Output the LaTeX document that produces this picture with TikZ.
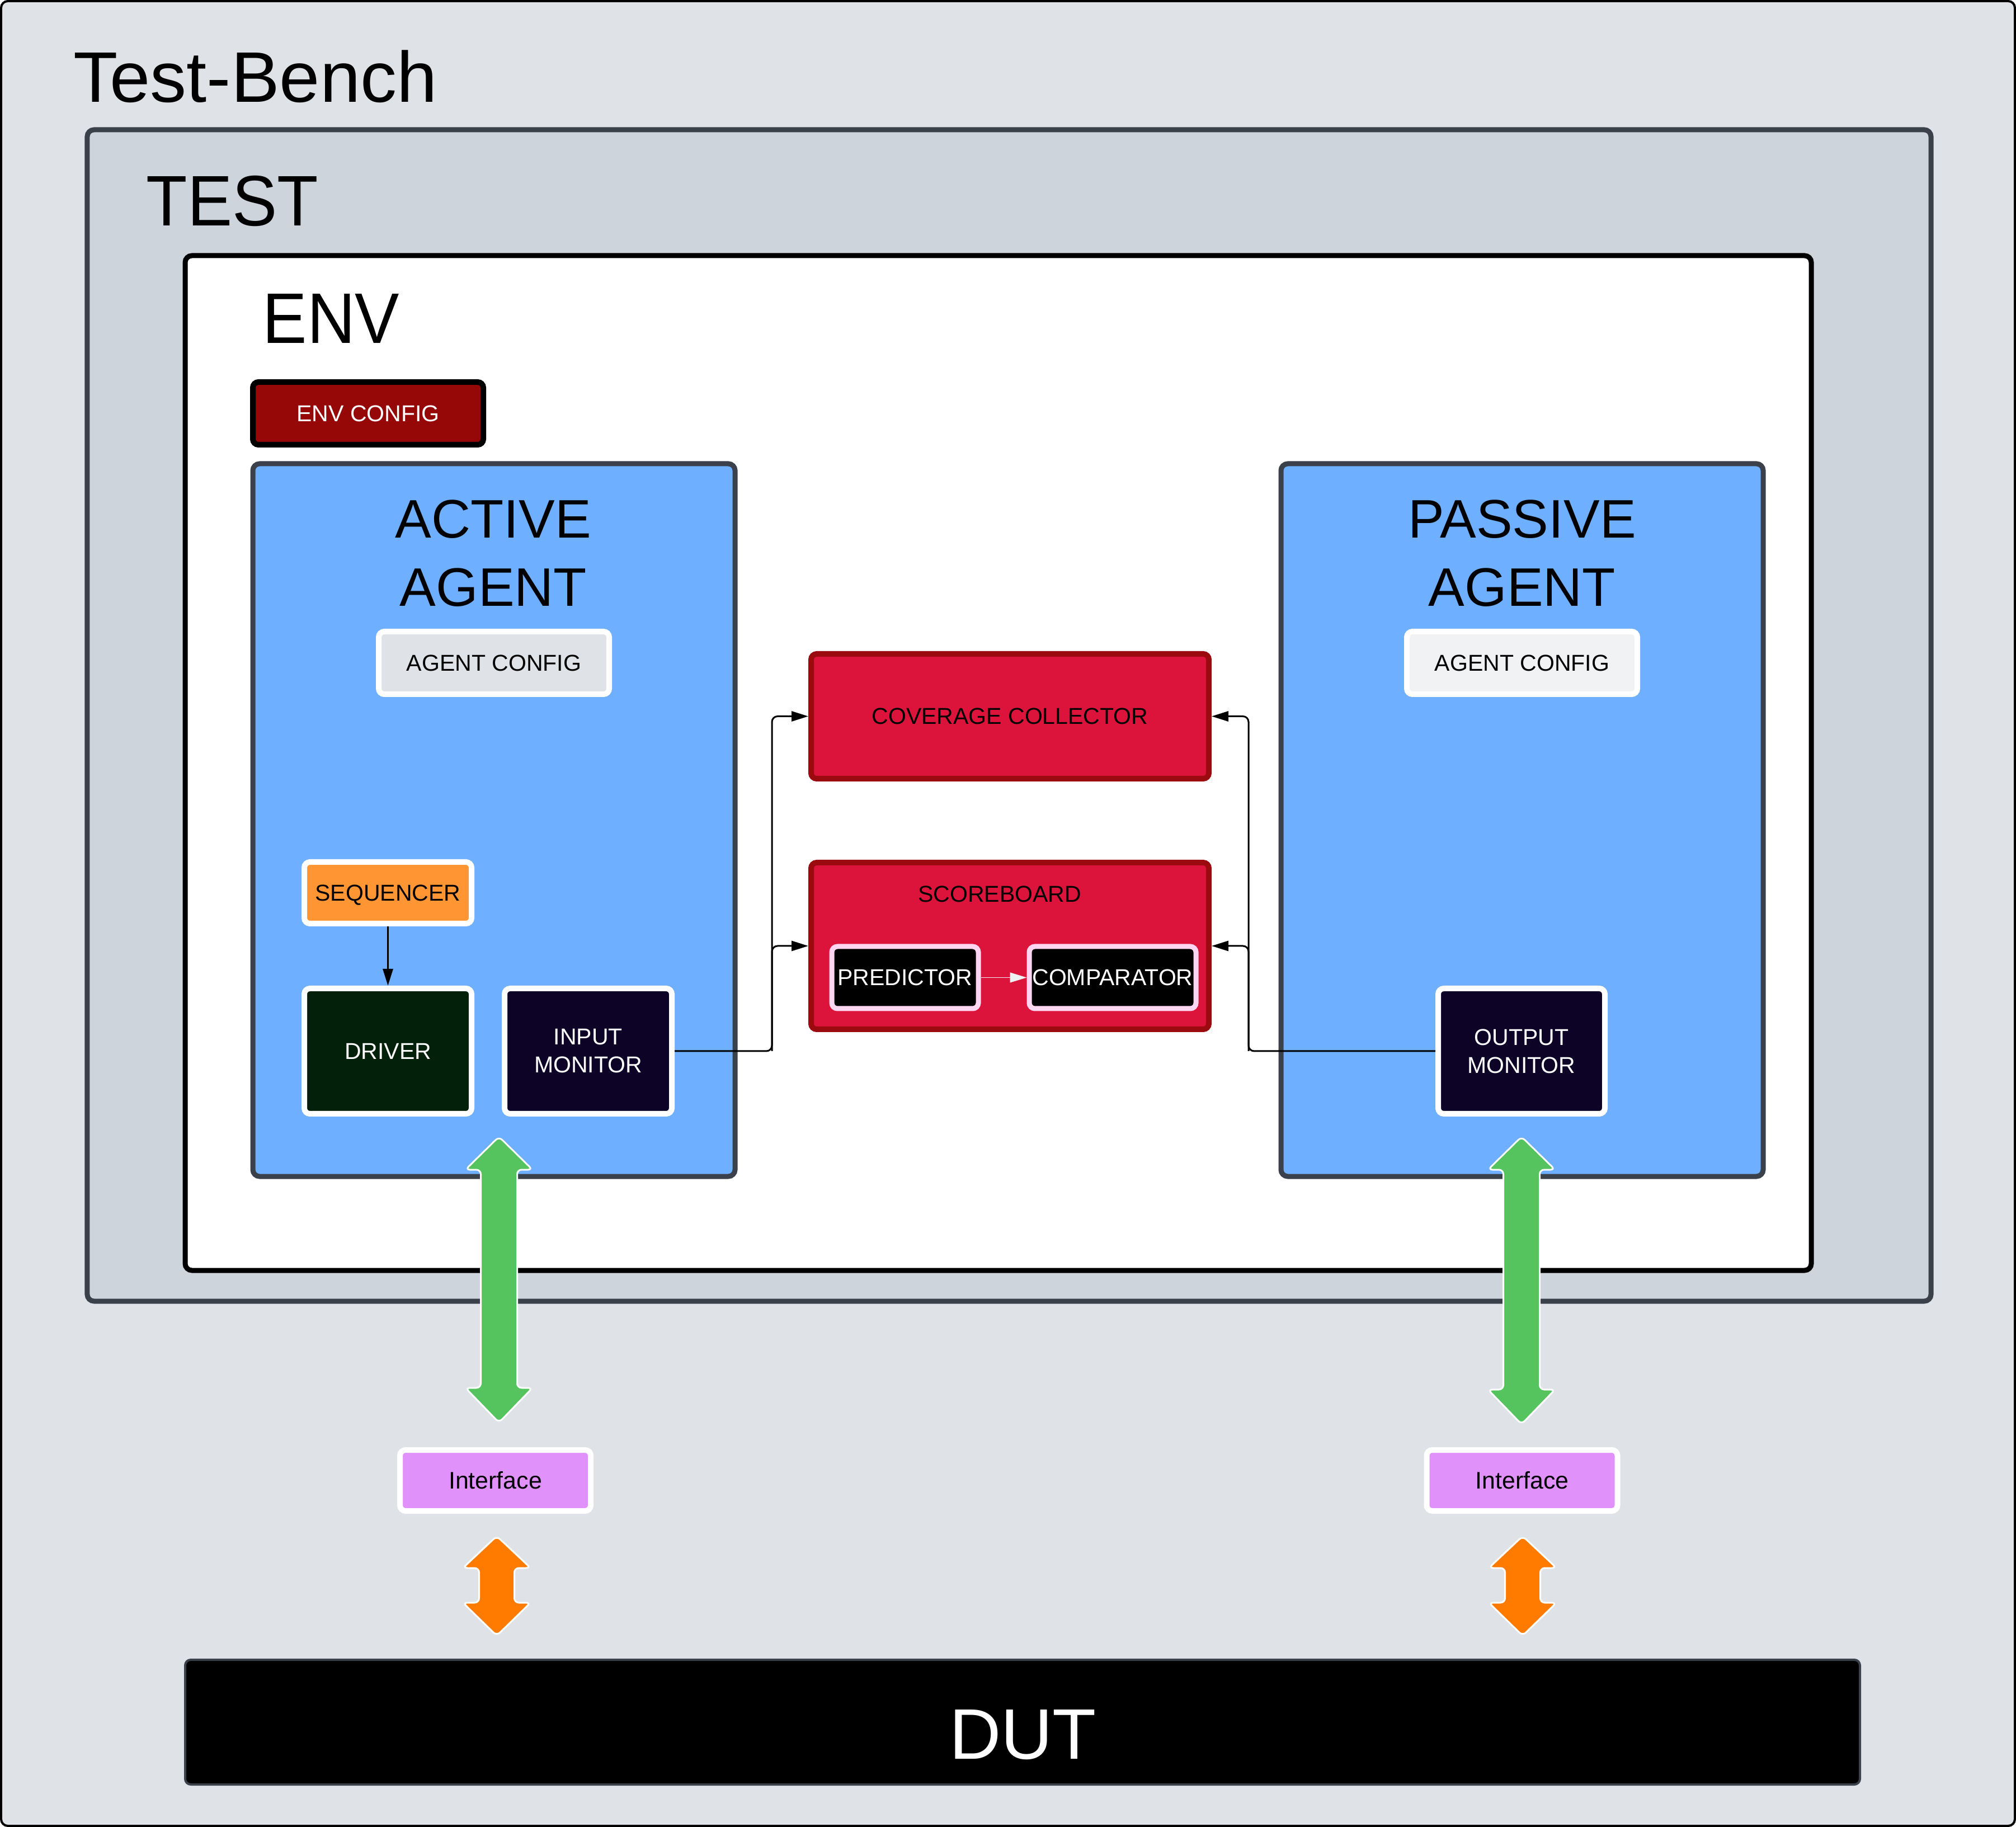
\documentclass[tikz,border=0pt]{standalone}
\usepackage{fontspec}
\setmainfont{Liberation Sans}
\usetikzlibrary{arrows.meta}

\definecolor{tbfill}{HTML}{DFE2E7}
\definecolor{testfill}{HTML}{CDD4DC}
\definecolor{darkedge}{HTML}{3A414B}
\definecolor{agentblue}{HTML}{6EB0FF}
\definecolor{cfggray}{HTML}{DFE2E7}
\definecolor{cfglight}{HTML}{F1F2F4}
\definecolor{envred}{HTML}{960808}
\definecolor{seqorange}{HTML}{FF9633}
\definecolor{drvgreen}{HTML}{03200A}
\definecolor{monpurple}{HTML}{0C0326}
\definecolor{crimsonfill}{HTML}{DC143C}
\definecolor{crimsonedge}{HTML}{9B0A0F}
\definecolor{pinkedge}{HTML}{FFD6F2}
\definecolor{biggreen}{HTML}{55C45F}
\definecolor{bigorange}{HTML}{FF7B00}
\definecolor{ifviolet}{HTML}{E091FA}
\definecolor{arrowlight}{HTML}{EEF0F2}

\newcommand{\bigtitle}{\fontsize{36.4pt}{40pt}\selectfont}
\newcommand{\agenttitle}{\fontsize{27.6pt}{34.4pt}\selectfont}
\newcommand{\lblfont}{\fontsize{11.67pt}{14.2pt}\selectfont}
\newcommand{\iffont}{\fontsize{12.2pt}{14pt}\selectfont}

% #1 colour, #2 cx, #3 top tip, #4 top head base, #5 bottom head base, #6 bottom tip, #7 shaft half width, #8 head half width
\newcommand{\dblarrow}[8]{%
  \draw[fill=#1, draw=white, line width=0.03cm, rounded corners=0.08cm]
   (#2,#3) -- (#2+#8,#4) -- (#2+#7,#4) -- (#2+#7,#5) -- (#2+#8,#5) -- (#2,#6)
   -- (#2-#8,#5) -- (#2-#7,#5) -- (#2-#7,#4) -- (#2-#8,#4) -- cycle;}

\tikzset{
  box/.style={draw, rounded corners=0.1cm, inner sep=0pt, align=center, font=\lblfont},
  container/.style={draw, inner sep=0pt, line width=0.09cm, rounded corners=0.12cm},
  titletext/.style={inner sep=0pt, font=\bigtitle, anchor=base west},
  agenttext/.style={inner sep=0pt, font=\agenttitle, anchor=base},
  conn/.style={line width=0.03cm, rounded corners=0.1cm, -{Triangle[length=0.3cm,width=0.18cm]}},
}

\begin{document}
\begin{tikzpicture}
\useasboundingbox (0,0) rectangle (36.04,-32.66);

% Test-bench background
\node[draw=black, fill=tbfill, line width=0.04cm, rounded corners=0.12cm, inner sep=0pt,
      minimum width=36.0cm, minimum height=32.62cm] (tb) at (18.02,-16.33) {};
\node[titletext] (tbtitle) at (1.31,-1.83) {\scalebox{1.015}[1]{Test-Bench}};

% TEST
\node[container, draw=darkedge, fill=testfill, minimum width=32.96cm, minimum height=20.94cm] (test) at (18.04,-12.79) {};
\node[titletext] (testtitle) at (2.61,-4.04) {\scalebox{0.94}[1]{TEST}};

% ENV
\node[container, draw=black, fill=white, minimum width=29.07cm, minimum height=18.14cm] (env) at (17.845,-13.64) {};
\node[titletext] (envtitle) at (4.69,-6.14) {\scalebox{0.93}[1]{ENV}};

\node[box, draw=black, line width=0.1cm, fill=envred, text=white, minimum width=4.12cm, minimum height=1.12cm] (envcfg) at (6.58,-7.39) {ENV CONFIG};

% Active agent
\node[container, draw=darkedge, fill=agentblue, minimum width=8.62cm, minimum height=12.74cm] (active) at (8.83,-14.66) {};
\node[agenttext] (acttitleA) at (8.82,-9.62) {ACTIVE};
\node[agenttext] (acttitleB) at (8.82,-10.84) {AGENT};
\node[box, draw=white, line width=0.1cm, fill=cfggray, minimum width=4.12cm, minimum height=1.12cm] (actcfg) at (8.83,-11.85) {AGENT CONFIG};
\node[box, draw=white, line width=0.1cm, fill=seqorange, text depth=0pt, minimum width=2.99cm, minimum height=1.10cm] (seq) at (6.935,-15.96) {SEQUENCER};
\node[box, draw=white, line width=0.1cm, fill=drvgreen, text=white, minimum width=2.99cm, minimum height=2.24cm] (drv) at (6.935,-18.79) {DRIVER};
\node[box, draw=white, line width=0.1cm, fill=monpurple, text=white, minimum width=2.99cm, minimum height=2.24cm] (inmon) at (10.515,-18.79) {INPUT\\MONITOR};

% Passive agent
\node[container, draw=darkedge, fill=agentblue, minimum width=8.62cm, minimum height=12.74cm] (passive) at (27.21,-14.66) {};
\node[agenttext] (pastitleA) at (27.21,-9.62) {PASSIVE};
\node[agenttext] (pastitleB) at (27.21,-10.84) {AGENT};
\node[box, draw=white, line width=0.1cm, fill=cfglight, minimum width=4.12cm, minimum height=1.12cm] (pascfg) at (27.21,-11.85) {AGENT CONFIG};
\node[box, draw=white, line width=0.1cm, fill=monpurple, text=white, minimum width=2.98cm, minimum height=2.24cm] (outmon) at (27.20,-18.79) {OUTPUT\\MONITOR};

% Coverage and scoreboard
\node[box, draw=crimsonedge, line width=0.1cm, fill=crimsonfill, minimum width=7.11cm, minimum height=2.23cm] (cov) at (18.055,-12.805) {COVERAGE COLLECTOR};
\node[box, draw=crimsonedge, line width=0.1cm, fill=crimsonfill, minimum width=7.11cm, minimum height=2.98cm] (sb) at (18.055,-16.91) {};
\node[inner sep=0pt, font=\lblfont, anchor=base] (sbtitle) at (17.87,-16.13) {SCOREBOARD};
\node[box, draw=pinkedge, line width=0.09cm, fill=black, text=white, minimum width=2.62cm, minimum height=1.11cm] (pred) at (16.18,-17.475) {PREDICTOR};
\node[box, draw=pinkedge, line width=0.09cm, fill=black, text=white, minimum width=2.98cm, minimum height=1.11cm] (comp) at (19.89,-17.475) {COMPARATOR};

% connectors
\draw[conn] (seq) -- (drv);
\draw[line width=0.015cm, draw=arrowlight, -{Triangle[length=0.3cm,width=0.18cm]}, arrowlight] (pred) -- (comp);

\coordinate (lbus) at (13.80,-18.79);
\draw[conn] (inmon.east) -- (lbus) |- (cov.west);
\draw[conn] (lbus) |- (sb.west);

\coordinate (rbus) at (22.32,-18.79);
\draw[conn] (outmon.west) -- (rbus) |- (cov.east);
\draw[conn] (rbus) |- (sb.east);

% Interfaces
\node[box, draw=white, line width=0.1cm, fill=ifviolet, font=\iffont, minimum width=3.41cm, minimum height=1.09cm] (ifa) at (8.855,-26.465) {Interface};
\node[box, draw=white, line width=0.1cm, fill=ifviolet, font=\iffont, minimum width=3.41cm, minimum height=1.09cm] (ifp) at (27.21,-26.465) {Interface};

% DUT
\node[draw=darkedge, fill=black, line width=0.04cm, rounded corners=0.1cm, inner sep=0pt,
      minimum width=29.94cm, minimum height=2.23cm] (dut) at (18.28,-30.785) {};
\node[inner sep=0pt, font=\bigtitle, text=white, anchor=base] (duttext) at (18.285,-31.44) {DUT};

% big double arrows
\dblarrow{biggreen}{8.92}{-20.32}{-20.91}{-24.81}{-25.43}{0.325}{0.60}
\dblarrow{biggreen}{27.20}{-20.32}{-20.91}{-24.84}{-25.46}{0.325}{0.60}
\dblarrow{bigorange}{8.88}{-27.46}{-28.03}{-28.65}{-29.24}{0.315}{0.605}
\dblarrow{bigorange}{27.22}{-27.46}{-28.03}{-28.65}{-29.24}{0.315}{0.605}

\end{tikzpicture}
\end{document}
